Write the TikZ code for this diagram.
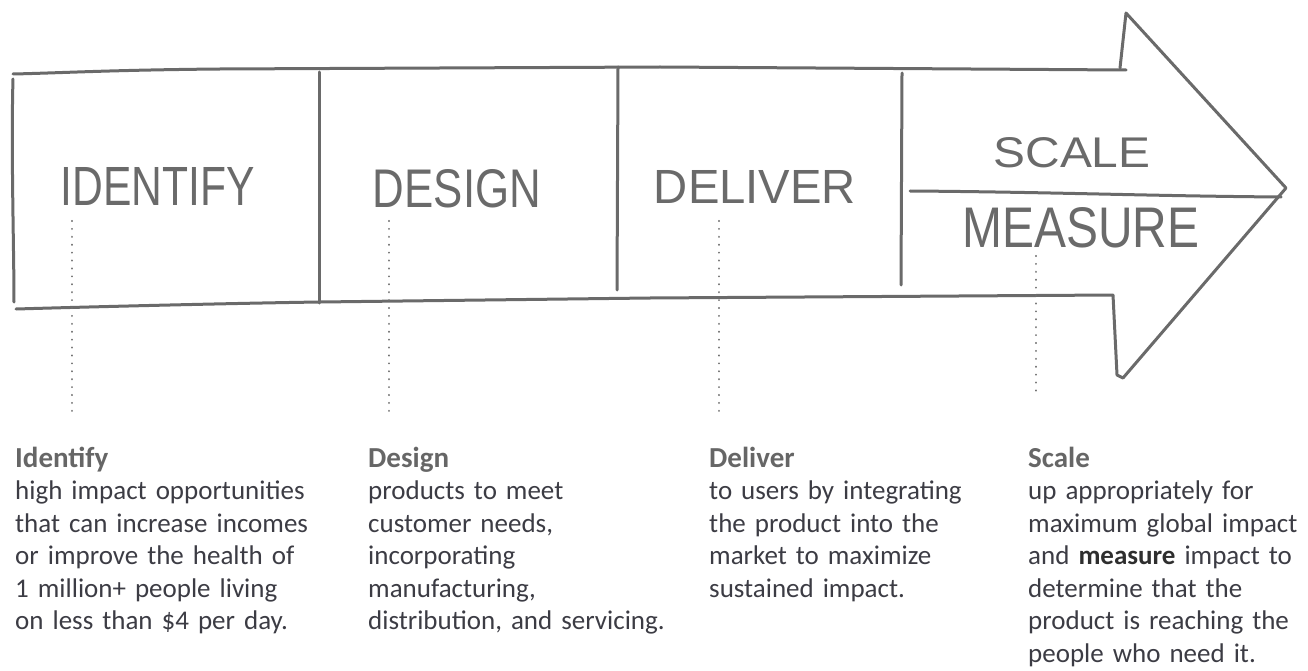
\documentclass[tikz,border=0pt]{standalone}
\usepackage{fontspec}
\usepackage{graphicx}
\setmainfont{Carlito}
\newfontfamily\handfont{Liberation Sans}
\definecolor{sketch}{HTML}{6A6A6A}
\definecolor{dotc}{HTML}{707070}
\definecolor{headc}{HTML}{666666}
\definecolor{bodyc}{HTML}{3C3C44}
\definecolor{boldc}{HTML}{2E2E2E}
\newcommand{\colhead}[1]{{\fontsize{29}{32.5}\selectfont\bfseries\color{headc}#1}}
\begin{document}
\begin{tikzpicture}[x=1pt,y=-1pt,
  sk/.style={draw=sketch,line width=3pt,line cap=round,line join=round},
  dotline/.style={draw=dotc,line width=2.2pt,dash pattern=on 0.01pt off 7.9pt,line cap=round},
  hand/.style={inner sep=0pt,text=sketch,font=\handfont},
  desc/.style={inner sep=0pt,anchor=base west,align=left,text width=320pt,text=bodyc,
    font=\fontsize{27}{32.5}\selectfont}]
\useasboundingbox (0,0) rectangle (1308,671);
% arrow outline
\draw[sk] (13,79) .. controls (11,150) and (14,250) .. (14,302);
\draw[sk] (13,74) .. controls (60,73) and (110,70) .. (220,69) -- (660,67) -- (1126,70);
\draw[sk] (16,309) .. controls (120,306) and (250,303) .. (320,302) -- (650,298) -- (1113,295) -- (1117,375) -- (1123,378) -- (1286,188) -- (1126,13) -- (1120,68);
% dividers
\draw[sk] (319,72) -- (319,303);
\draw[sk] (618,67) -- (617,290);
\draw[sk] (902,73) -- (901,285);
\draw[sk] (910,191) .. controls (1050,192) and (1150,196) .. (1281,197);
% hand labels
\node[hand] (lid) at (158,186) {\resizebox{194pt}{38pt}{IDENTIFY}};
\node[hand] (lde) at (457,189) {\resizebox{168pt}{38pt}{DESIGN}};
\node[hand] (ldl) at (755,187) {\resizebox{202pt}{33pt}{DELIVER}};
\node[hand] (lsc) at (1072,153) {\resizebox{157pt}{30pt}{SCALE}};
\node[hand] (lme) at (1081,228) {\resizebox{237pt}{40pt}{MEASURE}};
% descriptions
\node[desc] (tid) at (15,467) {\colhead{Identify}\\high impact opportunities\\that can increase incomes\\or improve the health of\\1 million+ people living\\on less than \$4 per day.};
\node[desc] (tde) at (368,467) {\colhead{Design}\\products to meet\\customer needs,\\incorporating\\manufacturing,\\distribution, and servicing.};
\node[desc] (tdl) at (709,467) {\colhead{Deliver}\\to users by integrating\\the product into the\\market to maximize\\sustained impact.};
\node[desc] (tsc) at (1028,467) {\colhead{Scale}\\up appropriately for\\maximum global impact\\and {\bfseries\color{boldc}measure} impact to\\determine that the\\product is reaching the\\people who need it.};
% dotted connectors
\coordinate (a1) at (72,221); \coordinate (b1) at (72,417);
\coordinate (a2) at (389,221); \coordinate (b2) at (389,417);
\coordinate (a3) at (719,221); \coordinate (b3) at (719,417);
\coordinate (a4) at (1036,256); \coordinate (b4) at (1036,391);
\draw[dotline] (a1) -- (b1);
\draw[dotline] (a2) -- (b2);
\draw[dotline] (a3) -- (b3);
\draw[dotline] (a4) -- (b4);
\end{tikzpicture}
\end{document}
